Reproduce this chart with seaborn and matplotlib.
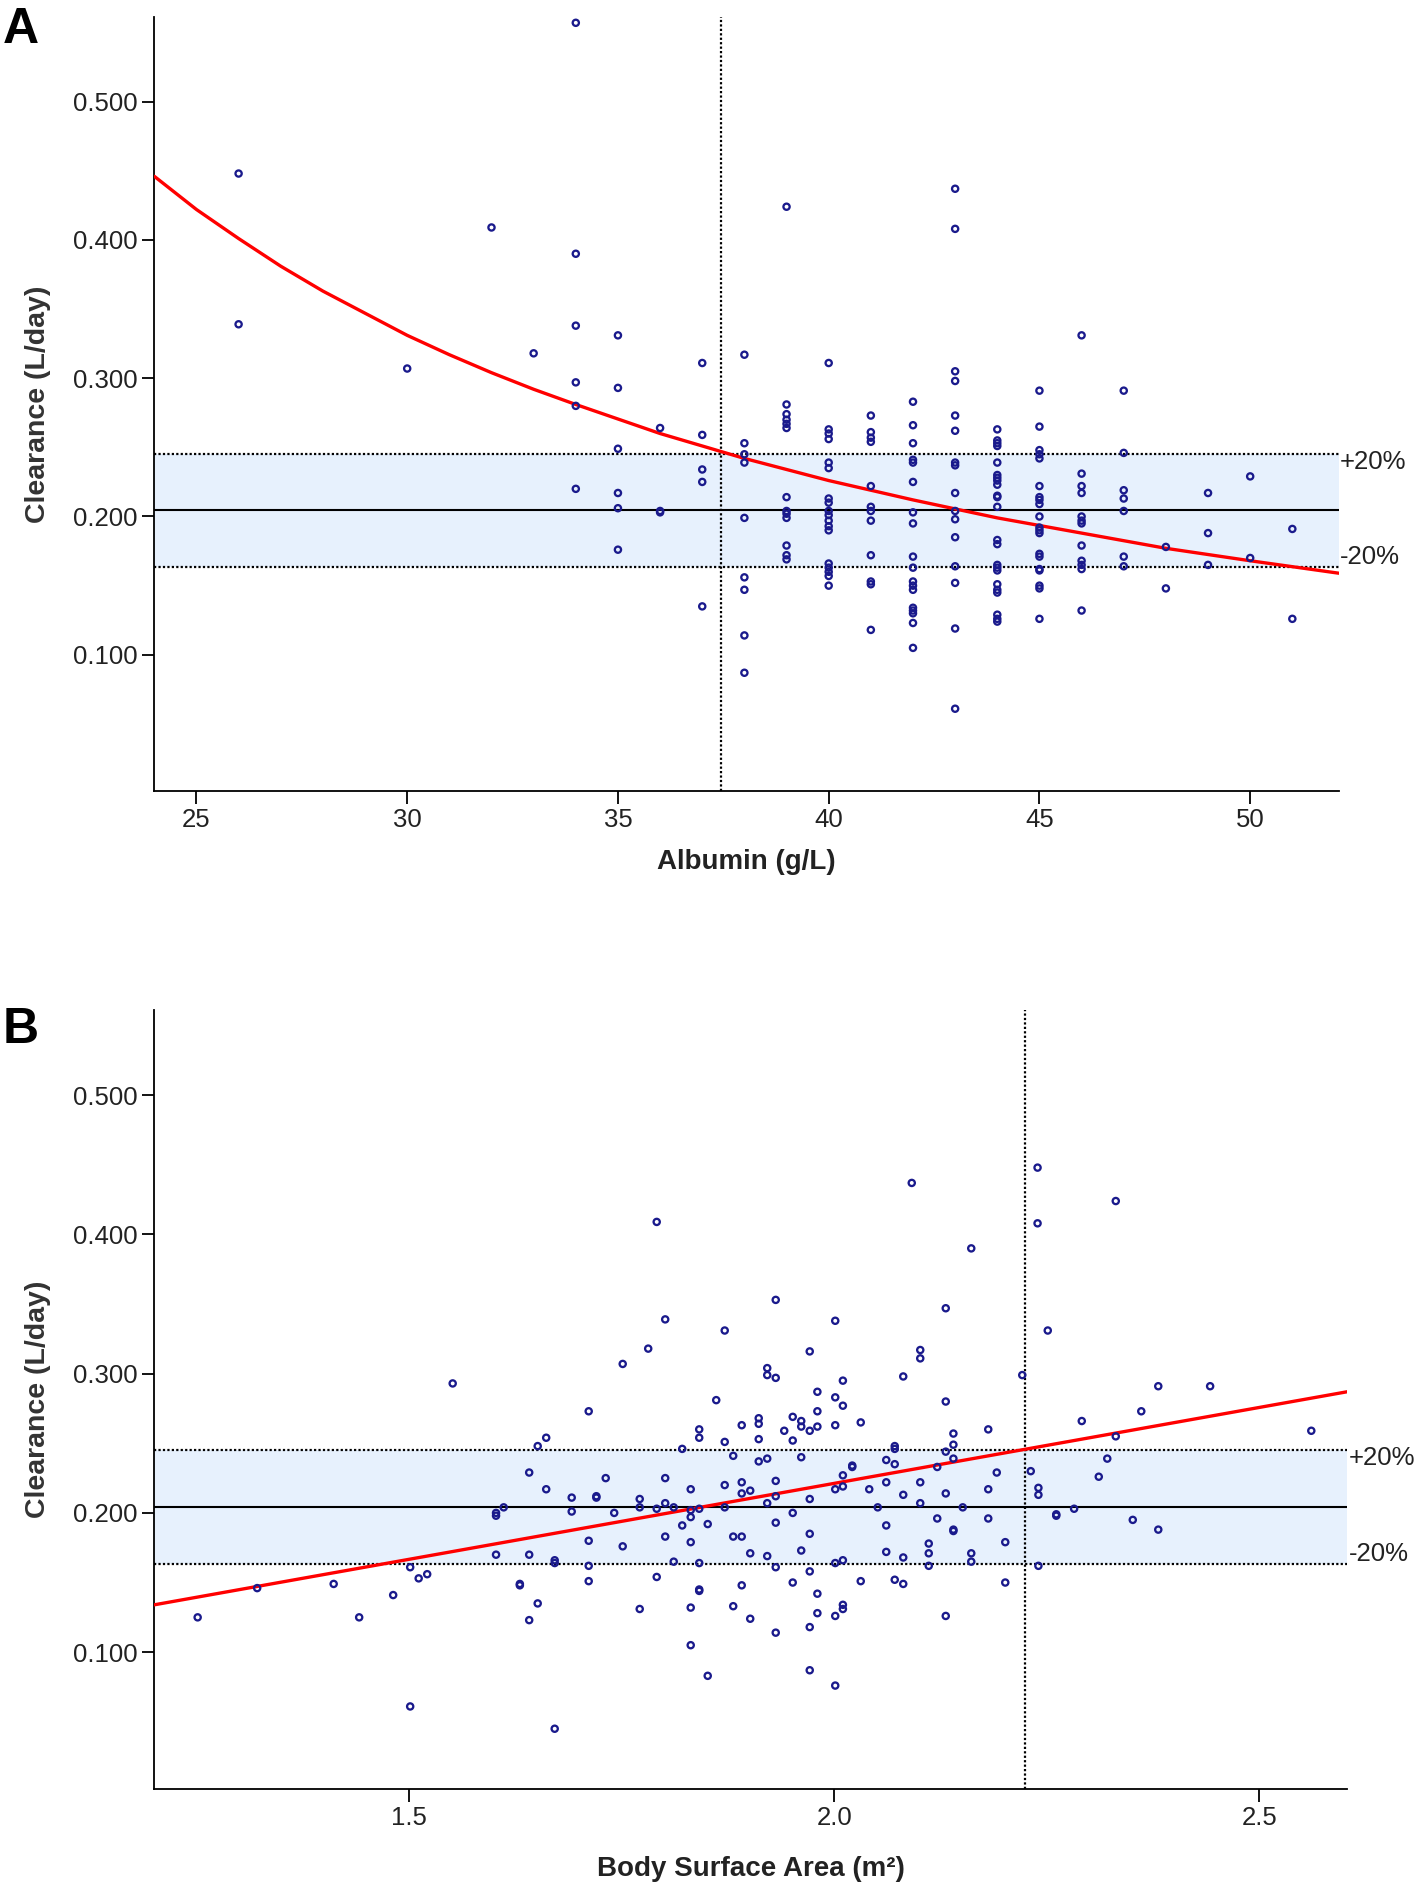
import numpy as np
import pandas as pd
import matplotlib
matplotlib.use("Agg")
import matplotlib.pyplot as plt
import matplotlib.transforms as mtransforms
import seaborn as sns

# ---------------- Panel A data: Albumin (g/L) vs Clearance (L/day) ----------------
albumin_gl = (
    [26] * 2 + [30] + [32] + [33] + [34] * 6 + [35] * 6 + [36] * 3 + [37] * 5 + [38] * 9 +
    [39] * 13 + [40] * 18 + [41] * 12 + [42] * 18 + [43] * 16 + [44] * 23 + [45] * 20 +
    [46] * 12 + [47] * 7 + [48] * 2 + [49] * 3 + [50] * 2 + [51] * 2
)
clearance_a = [
    0.448, 0.339,
    0.307,
    0.409,
    0.318,
    0.557, 0.390, 0.338, 0.297, 0.280, 0.220,
    0.331, 0.293, 0.249, 0.217, 0.206, 0.176,
    0.264, 0.204, 0.203,
    0.311, 0.259, 0.234, 0.225, 0.135,
    0.317, 0.253, 0.245, 0.239, 0.199, 0.156, 0.147, 0.114, 0.087,
    0.424, 0.281, 0.274, 0.270, 0.267, 0.264, 0.214, 0.204, 0.202, 0.199, 0.179, 0.172, 0.169,
    0.311, 0.263, 0.260, 0.256, 0.239, 0.235, 0.213, 0.210, 0.204, 0.201, 0.197, 0.193, 0.190,
    0.166, 0.163, 0.160, 0.157, 0.150,
    0.273, 0.261, 0.257, 0.254, 0.222, 0.207, 0.204, 0.197, 0.172, 0.153, 0.151, 0.118,
    0.283, 0.266, 0.253, 0.241, 0.239, 0.225, 0.203, 0.195, 0.171, 0.163, 0.153, 0.150, 0.147,
    0.134, 0.132, 0.130, 0.123, 0.105,
    0.437, 0.408, 0.305, 0.298, 0.273, 0.262, 0.239, 0.237, 0.217, 0.204, 0.198, 0.185, 0.164,
    0.152, 0.119, 0.061,
    0.263, 0.255, 0.253, 0.251, 0.239, 0.230, 0.228, 0.226, 0.223, 0.215, 0.214, 0.207, 0.183,
    0.180, 0.165, 0.163, 0.161, 0.151, 0.147, 0.145, 0.129, 0.126, 0.124,
    0.291, 0.265, 0.248, 0.245, 0.242, 0.222, 0.214, 0.212, 0.209, 0.200, 0.192, 0.190, 0.188,
    0.173, 0.171, 0.162, 0.161, 0.150, 0.148, 0.126,
    0.331, 0.231, 0.222, 0.217, 0.200, 0.197, 0.195, 0.179, 0.168, 0.165, 0.162, 0.132,
    0.291, 0.246, 0.219, 0.213, 0.204, 0.171, 0.164,
    0.178, 0.148,
    0.217, 0.188, 0.165,
    0.229, 0.170,
    0.191, 0.126,
]

# model curve
fit_albumin = [24.0, 25, 26, 27, 28, 29, 30, 31, 32, 33, 34, 36, 38, 40, 42, 44, 46, 48,
               50, 52.1]
fit_clear_a = [0.446, 0.422, 0.401, 0.381, 0.363, 0.347, 0.331, 0.317, 0.304, 0.292,
               0.281, 0.260, 0.242, 0.226, 0.212, 0.199, 0.188, 0.177, 0.168, 0.159]

# ---------------- Panel B data: Body surface area (m2) vs Clearance ----------------
bsa_m2 = [
    1.251, 1.321, 1.411, 1.441, 1.481, 1.501, 1.511, 1.521, 1.551, 1.501, 1.602, 1.602, 1.611,
    1.602, 1.630, 1.630,
    1.791, 2.091, 2.239, 2.239, 2.161, 1.931, 1.801, 1.871, 2.001, 2.131, 1.781, 1.751, 1.971,
    1.921, 1.921, 1.931, 2.010, 2.101, 2.101, 2.081, 2.221, 1.711, 1.861, 1.980, 2.001, 2.010,
    1.980, 2.131, 2.031, 2.181, 2.140, 2.140, 2.131, 2.140, 2.071, 2.071, 2.061, 2.071, 2.121,
    1.891, 1.911, 1.911, 1.911, 1.941, 1.951, 1.951, 1.961, 1.961, 1.971, 1.980, 2.001, 1.841,
    1.841, 1.871, 1.661, 1.651, 1.821, 1.881, 1.911, 1.921, 1.961, 1.641, 1.661, 1.691, 1.691,
    1.720, 1.720, 1.731, 1.741, 1.771, 1.771, 1.791, 1.801, 1.801, 1.811, 1.831, 1.831, 1.841,
    1.871, 1.871, 1.891, 1.891, 1.901, 1.921, 1.931, 1.931, 1.971, 2.001, 2.010, 2.010, 2.021,
    2.021, 2.041, 2.061, 2.081, 2.101, 2.131, 2.181, 2.191, 2.231, 2.240, 2.240, 2.051, 2.101,
    2.151, 1.951,
    1.821, 1.831, 1.851, 1.931, 1.971, 2.061, 2.121, 2.140, 2.140, 2.181, 1.641, 1.671, 1.671,
    1.711, 1.711, 1.711, 1.751, 1.801, 1.811, 1.831, 1.841, 1.881, 1.891, 1.901, 1.921, 1.931,
    1.961, 1.971, 2.001, 2.010, 2.061, 2.081, 2.111, 2.111, 2.111, 2.161, 2.161, 2.201, 2.240,
    2.201, 1.651, 1.641, 1.671, 1.791, 1.771, 1.831, 1.841, 1.841, 1.831, 1.851, 1.881, 1.891,
    1.901, 1.931, 1.951, 1.971, 1.971, 1.980, 1.980, 2.001, 2.010, 2.010, 2.001, 2.031, 2.071,
    2.081, 2.131,
    2.261, 2.261, 2.282, 2.291, 2.311, 2.321, 2.331, 2.351, 2.361, 2.381, 2.561, 2.331, 2.381,
    2.442, 2.251,
]
clearance_b = [
    0.125, 0.146, 0.149, 0.125, 0.141, 0.161, 0.153, 0.156, 0.293, 0.061, 0.198, 0.200, 0.204,
    0.170, 0.149, 0.148,
    0.409, 0.437, 0.448, 0.408, 0.390, 0.353, 0.339, 0.331, 0.338, 0.347, 0.318, 0.307, 0.316,
    0.304, 0.299, 0.297, 0.295, 0.317, 0.311, 0.298, 0.299, 0.273, 0.281, 0.287, 0.283, 0.277,
    0.273, 0.280, 0.265, 0.260, 0.257, 0.249, 0.244, 0.239, 0.248, 0.246, 0.238, 0.235, 0.233,
    0.263, 0.268, 0.264, 0.253, 0.259, 0.269, 0.252, 0.266, 0.262, 0.259, 0.262, 0.263, 0.260,
    0.254, 0.251, 0.254, 0.248, 0.246, 0.241, 0.237, 0.239, 0.240, 0.229, 0.217, 0.211, 0.201,
    0.212, 0.211, 0.225, 0.200, 0.210, 0.204, 0.203, 0.225, 0.207, 0.204, 0.217, 0.202, 0.203,
    0.220, 0.204, 0.222, 0.214, 0.216, 0.207, 0.223, 0.212, 0.210, 0.217, 0.227, 0.219, 0.234,
    0.233, 0.217, 0.222, 0.213, 0.222, 0.214, 0.217, 0.229, 0.230, 0.218, 0.213, 0.204, 0.207,
    0.204, 0.200,
    0.191, 0.197, 0.192, 0.193, 0.185, 0.191, 0.196, 0.188, 0.187, 0.196, 0.170, 0.166, 0.164,
    0.180, 0.162, 0.151, 0.176, 0.183, 0.165, 0.179, 0.164, 0.183, 0.183, 0.171, 0.169, 0.161,
    0.173, 0.158, 0.164, 0.166, 0.172, 0.168, 0.178, 0.171, 0.162, 0.171, 0.165, 0.179, 0.162,
    0.150, 0.135, 0.123, 0.045, 0.154, 0.131, 0.132, 0.145, 0.144, 0.105, 0.083, 0.133, 0.148,
    0.124, 0.114, 0.150, 0.118, 0.087, 0.142, 0.128, 0.126, 0.134, 0.131, 0.076, 0.151, 0.152,
    0.149, 0.126,
    0.199, 0.198, 0.203, 0.266, 0.226, 0.239, 0.255, 0.195, 0.273, 0.188, 0.259, 0.424, 0.291,
    0.291, 0.331,
]

# linear model line
fit_bsa = [1.200, 2.603]
fit_clear_b = [0.134, 0.287]

# reference lines (typical clearance and +/-20 %)
cl_typical = 0.2045
cl_upper = 0.2454
cl_lower = 0.1636
alb_cut = 37.45
bsa_cut = 2.224

yticks = [0.1, 0.2, 0.3, 0.4, 0.5]
ytick_labels = ["0.100", "0.200", "0.300", "0.400", "0.500"]
xticks_a = [25, 30, 35, 40, 45, 50]
xticks_b = [1.5, 2.0, 2.5]
xtick_labels_b = ["1.5", "2.0", "2.5"]

# ---------------- styling ----------------
sns.set_theme(style="white")
plt.rcParams["font.family"] = ["Liberation Sans", "DejaVu Sans"]

NAVY = "#1a1a8c"
BAND = "#e7f1fd"
TXT = "#222222"

W, H = 1418, 1887
fig = plt.figure(figsize=(W / 100, H / 100), dpi=100)
axA = fig.add_axes([154.3 / W, 1 - 791 / H, (1338.7 - 154.3) / W, (791 - 17) / H])
axB = fig.add_axes([154.3 / W, 1 - 1789.3 / H, (1347 - 154.3) / W, (1789.3 - 1010) / H])


def draw_panel(ax, x, y, fx, fy, xlim, xticks, xticklabels, vcut, xlabel, xlab_y, ylab_x):
    ax.axhspan(cl_lower, cl_upper, color=BAND, lw=0, zorder=0)
    ax.axhline(cl_typical, color="black", lw=1.5, zorder=1)
    ax.axhline(cl_upper, color="black", lw=1.6, ls=(0, (1, 1)), zorder=1)
    ax.axhline(cl_lower, color="black", lw=1.6, ls=(0, (1, 1)), zorder=1)
    ax.axvline(vcut, color="black", lw=1.6, ls=(0, (1, 1)), zorder=1)

    sns.lineplot(x=fx, y=fy, ax=ax, color="#ff0000", lw=2.4, estimator=None,
                 sort=False, zorder=3)
    df = pd.DataFrame({"x": x, "y": y})
    sns.scatterplot(data=df, x="x", y="y", ax=ax, marker="o", s=20,
                    facecolors="none", edgecolor=NAVY, linewidth=1.65, zorder=4)

    ax.set_xlim(*xlim)
    ax.set_ylim(0.0015, 0.5612)
    ax.set_yticks(yticks)
    ax.set_yticklabels(ytick_labels)
    ax.set_xticks(xticks)
    ax.set_xticklabels(xticklabels)
    ax.tick_params(axis="both", which="both", direction="out", length=9, width=1.3,
                   color="black", labelcolor=TXT, labelsize=18.5, pad=3,
                   bottom=True, left=True)
    for side in ("top", "right"):
        ax.spines[side].set_visible(False)
    for side in ("left", "bottom"):
        ax.spines[side].set_color("black")
        ax.spines[side].set_linewidth(1.3)

    ax.set_xlabel(xlabel, fontsize=20, fontweight="bold", color=TXT, va="center")
    ax.xaxis.set_label_coords(0.5, xlab_y)
    ax.set_ylabel("Clearance (L/day)", fontsize=20.5, fontweight="bold", color="#333333",
                  va="center", ha="center")
    ax.yaxis.set_label_coords(ylab_x, 0.5)

    trans = mtransforms.blended_transform_factory(ax.transAxes, ax.transData)
    ax.annotate("+20%", xy=(1.0, cl_upper), xycoords=trans, xytext=(1, -6),
                textcoords="offset points", ha="left", va="center",
                fontsize=18.5, color=TXT, annotation_clip=False)
    ax.annotate("-20%", xy=(1.0, cl_lower), xycoords=trans, xytext=(1, 7),
                textcoords="offset points", ha="left", va="center",
                fontsize=18.5, color=TXT, annotation_clip=False)


draw_panel(axA, albumin_gl, clearance_a, fit_albumin, fit_clear_a, (24.0, 52.1),
           xticks_a, [str(t) for t in xticks_a], alb_cut, "Albumin (g/L)", -0.0917, -0.0978)
draw_panel(axB, bsa_m2, clearance_b, fit_bsa, fit_clear_b, (1.2, 2.603),
           xticks_b, xtick_labels_b, bsa_cut, "Body Surface Area (m²)", -0.1023, -0.0971)

fig.text(0.002, 1 - 43 / H, "A", fontsize=36, fontweight="bold", ha="left",
         va="baseline", color="black")
fig.text(0.002, 1 - 1043 / H, "B", fontsize=36, fontweight="bold", ha="left",
         va="baseline", color="black")

fig.savefig("out.png", dpi=100)
